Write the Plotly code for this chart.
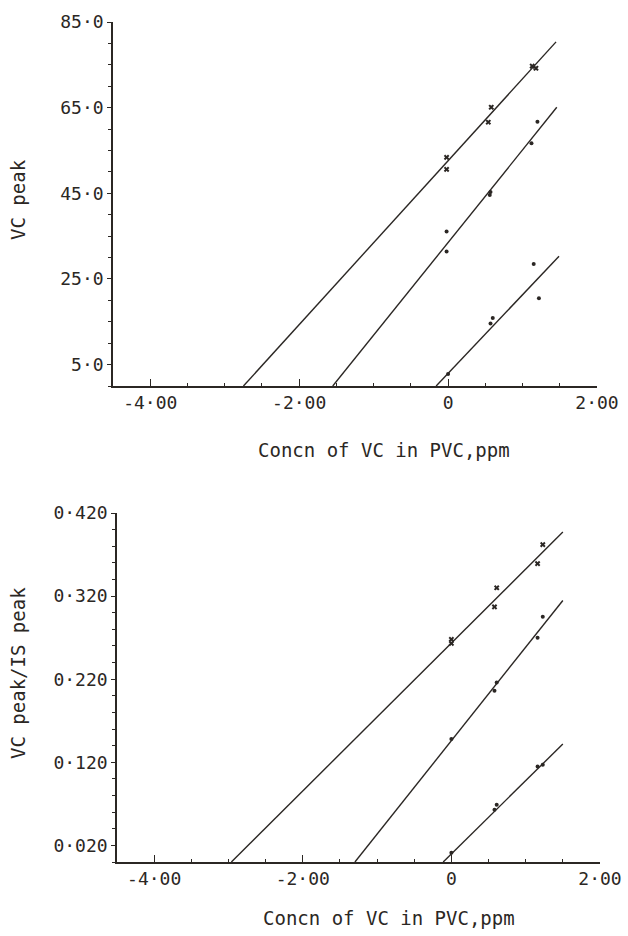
import plotly.graph_objects as go

INK = "#2b2724"
FONT = "DejaVu Sans Mono"

# ---------------- Top panel data (VC peak) ----------------
top_x_cross = [-0.02, -0.02, 0.58, 0.54, 1.13, 1.18]
top_y_cross = [53.4, 50.6, 65.1, 61.6, 74.7, 74.2]
top_x_mid = [-0.02, -0.02, 0.57, 0.56, 1.12, 1.20]
top_y_mid = [36.1, 31.4, 45.3, 44.6, 56.7, 61.7]
top_x_low = [0.0, 0.60, 0.57, 1.15, 1.22]
top_y_low = [2.8, 15.9, 14.6, 28.5, 20.5]
top_fit_slope = [19.14, 21.63, 18.36]
top_fit_icpt = [52.6, 33.5, 2.94]
top_fit_xend = [1.45, 1.46, 1.49]
top_ytick_vals = [5, 25, 45, 65, 85]
top_ytick_text = ["5·0", "25·0", "45·0", "65·0", "85·0"]

# ---------------- Bottom panel data (VC peak / IS peak) ----------------
bot_x_cross = [0.0, 0.0, 0.61, 0.58, 1.23, 1.16]
bot_y_cross = [0.268, 0.263, 0.330, 0.307, 0.382, 0.359]
bot_x_mid = [0.0, 0.61, 0.58, 1.23, 1.16]
bot_y_mid = [0.148, 0.216, 0.206, 0.295, 0.270]
bot_x_low = [0.0, 0.61, 0.58, 1.23, 1.16]
bot_y_low = [0.011, 0.069, 0.063, 0.117, 0.115]
bot_fit_slope = [0.0890, 0.1125, 0.0882]
bot_fit_icpt = [0.2635, 0.146, 0.0097]
bot_fit_xend = [1.50, 1.50, 1.50]
bot_ytick_vals = [0.02, 0.12, 0.22, 0.32, 0.42]
bot_ytick_text = ["0·020", "0·120", "0·220", "0·320", "0·420"]

xtick_vals = [-4, -2, 0, 2]
xtick_text = ["-4·00", "-2·00", "0", "2·00"]

W, H = 628, 936

fig = go.Figure()


def add_panel(xa, ya, xc, yc, xm, ym, xl, yl, slopes, icpts, xends):
    for m, b, xe in zip(slopes, icpts, xends):
        fig.add_trace(go.Scatter(x=[-b / m, xe], y=[0, m * xe + b], mode="lines",
                                 line=dict(color=INK, width=1.4),
                                 xaxis=xa, yaxis=ya, showlegend=False, hoverinfo="skip"))
    fig.add_trace(go.Scatter(x=xc, y=yc, mode="markers",
                             marker=dict(symbol="x", size=5, color=INK),
                             xaxis=xa, yaxis=ya, showlegend=False))
    fig.add_trace(go.Scatter(x=xm + xl, y=ym + yl, mode="markers",
                             marker=dict(symbol="circle", size=4, color=INK),
                             xaxis=xa, yaxis=ya, showlegend=False))


add_panel("x", "y", top_x_cross, top_y_cross, top_x_mid, top_y_mid, top_x_low, top_y_low,
          top_fit_slope, top_fit_icpt, top_fit_xend)
add_panel("x2", "y2", bot_x_cross, bot_y_cross, bot_x_mid, bot_y_mid, bot_x_low, bot_y_low,
          bot_fit_slope, bot_fit_icpt, bot_fit_xend)

tickfont = dict(family=FONT, size=18, color=INK)


def xaxis_cfg(domain, anchor):
    return dict(domain=domain, anchor=anchor, range=[-4.5, 2.0], showgrid=False, zeroline=False,
                showline=True, linecolor=INK, linewidth=1.6, automargin=False,
                tickvals=xtick_vals, ticktext=xtick_text, ticks="inside", ticklen=7,
                tickcolor=INK, tickwidth=1.4, tickfont=tickfont,
                minor=dict(dtick=0.5, tick0=0, ticks="inside", ticklen=3, tickcolor=INK, tickwidth=1.2),
                fixedrange=True)


def yaxis_cfg(domain, anchor, rng, vals, text, mdt):
    return dict(domain=domain, anchor=anchor, range=rng, showgrid=False, zeroline=False,
                showline=True, linecolor=INK, linewidth=1.6, automargin=False,
                tickvals=vals, ticktext=text, ticks="outside", ticklen=4,
                tickcolor=INK, tickwidth=1.4, tickfont=tickfont,
                minor=dict(dtick=mdt, tick0=0, ticks="outside", ticklen=3, tickcolor=INK, tickwidth=1.2),
                fixedrange=True)


fig.update_layout(
    template="none",
    width=W, height=H,
    margin=dict(l=0, r=0, t=0, b=0, pad=0),
    paper_bgcolor="white", plot_bgcolor="white",
    xaxis=xaxis_cfg([113 / W, 597 / W], "y"),
    yaxis=yaxis_cfg([1 - 386 / H, 1 - 22 / H], "x", [0, 85], top_ytick_vals, top_ytick_text, 5),
    xaxis2=xaxis_cfg([117 / W, 600 / W], "y2"),
    yaxis2=yaxis_cfg([1 - 862 / H, 1 - 513 / H], "x2", [0, 0.42], bot_ytick_vals, bot_ytick_text, 0.02),
)

titlefont = dict(family=FONT, size=19, color=INK)
annots = [
    dict(text="VC peak", x=18 / W, y=1 - 200 / H, textangle=-90),
    dict(text="Concn of VC in PVC,ppm", x=384 / W, y=1 - 450 / H, textangle=0),
    dict(text="VC peak/IS peak", x=18 / W, y=1 - 673 / H, textangle=-90),
    dict(text="Concn of VC in PVC,ppm", x=389 / W, y=1 - 918 / H, textangle=0),
]
for a in annots:
    fig.add_annotation(xref="paper", yref="paper", showarrow=False, font=titlefont,
                       xanchor="center", yanchor="middle", **a)

fig.write_html("out.html")
